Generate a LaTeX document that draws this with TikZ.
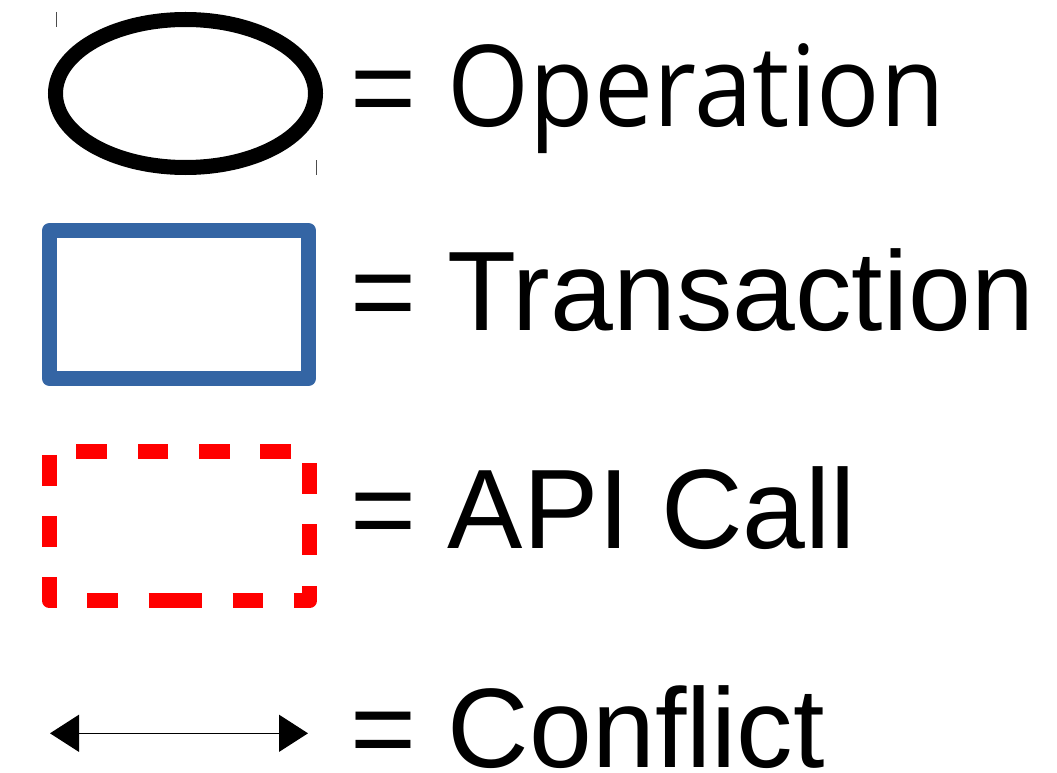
\documentclass[tikz,border=0pt]{standalone}
\usepackage{fontspec}
\setmainfont{Liberation Sans}
\newfontfamily\opfont[FakeStretch=0.932]{Open Sans}
\usetikzlibrary{shapes.geometric,arrows.meta}
\definecolor{txblue}{RGB}{52,101,164}
\begin{document}
\begin{tikzpicture}[x=1pt,y=-1pt,
  opshape/.style={draw=black,ellipse,line width=15pt,minimum width=260pt,minimum height=148pt,inner sep=0pt},
  txshape/.style={draw=txblue,rectangle,line width=15pt,line join=round,minimum width=259pt,minimum height=148pt,inner sep=0pt},
  apishape/.style={rectangle,minimum width=260pt,minimum height=149pt,inner sep=0pt},
  apiline/.style={draw=red,line width=15pt,line join=round,dash pattern=on 30.8pt off 30.5pt},
  conflictline/.style={draw=black,line width=1.3pt,{Triangle[length=29pt,width=37pt]}-{Triangle[length=29pt,width=37pt]}},
  tick/.style={draw=black!70,line width=1pt},
  legtext/.style={anchor=base west,inner sep=0pt,font=\fontsize{113}{113}\selectfont}]
\useasboundingbox (0,0) rectangle (1057,773);
% operation
\node[opshape] (op) at (185.5,93.5) {};
\coordinate (tl1) at (56,12); \coordinate (tl2) at (56,27);
\coordinate (br1) at (316,160); \coordinate (br2) at (316,175);
\draw[tick] (tl1) -- (tl2);
\draw[tick] (br1) -- (br2);
\node[legtext] (opt) at (350.3,127) {= {\opfont Operation}};
% transaction
\node[txshape] (tx) at (179,304.5) {};
\node[legtext] (txt) at (350.3,330) {= Transaction};
% api call
\node[apishape] (api) at (179.5,526) {};
\draw[apiline] ([xshift=122pt]api.south west) -- (api.south east) -- (api.north east) -- (api.north west) -- (api.south west) -- cycle;
\node[legtext] (apit) at (350.3,548) {= API Call};
% conflict
\coordinate (cl) at (50,733.3);
\coordinate (cr) at (308,733.3);
\draw[conflictline] (cl) -- (cr);
\node[legtext] (cft) at (350.3,767) {= Conflict};
\end{tikzpicture}
\end{document}
